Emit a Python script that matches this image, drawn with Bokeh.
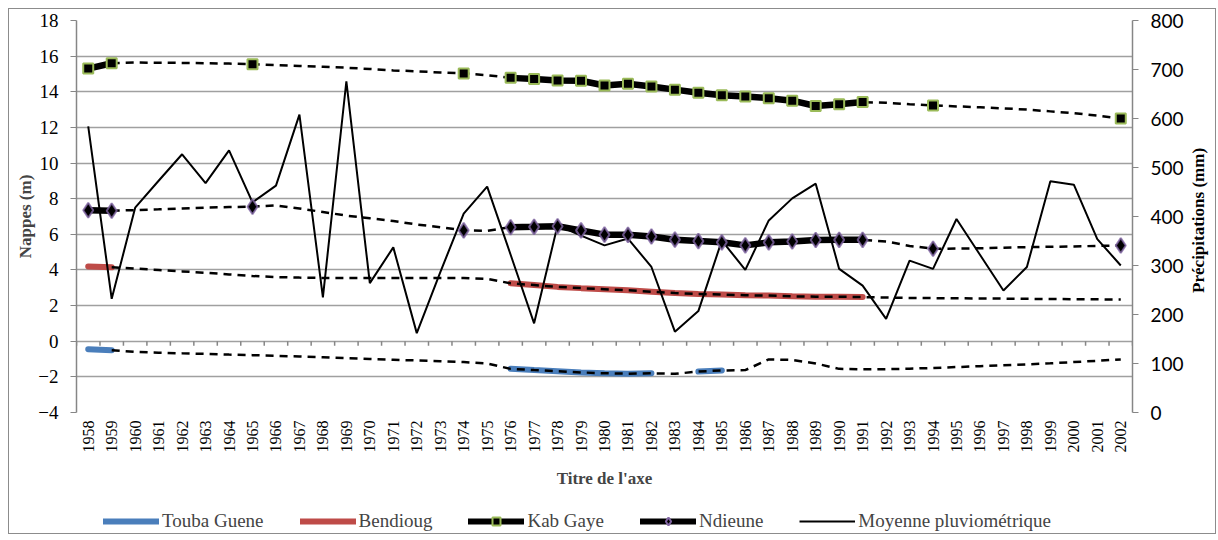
import math
import numpy as np
from bokeh.plotting import figure
from bokeh.layouts import column, row
from bokeh.core.properties import value
from bokeh.models import (FactorRange, Range1d, LinearAxis, Legend, LegendItem,
                          ColumnDataSource, FixedTicker)
from bokeh.transform import dodge
from bokeh.embed import file_html
from bokeh.resources import INLINE

N = np.nan
years = [str(y) for y in range(1958, 2003)]

# Nappes (m) - observed series
touba_guene = [-0.45, -0.5] + [N]*16 + [-1.55, -1.62, -1.68, -1.75, -1.8, -1.82, -1.8, N, -1.7, -1.64] + [N]*17
bendioug = [4.2, 4.15] + [N]*16 + [3.25, 3.15, 3.05, 2.98, 2.92, 2.86, 2.78, 2.7, 2.65, 2.62, 2.58, 2.56, 2.52, 2.5, 2.5, 2.48] + [N]*11
kab_gaye = [15.3, 15.6] + [N]*5 + [15.55] + [N]*8 + [15.03, N] + \
    [14.78, 14.72, 14.63, 14.62, 14.35, 14.45, 14.3, 14.12, 13.95, 13.8, 13.74, 13.64, 13.5, 13.2, 13.3, 13.42] + \
    [N, N, 13.23] + [N]*7 + [12.5]
ndieune = [7.35, 7.32] + [N]*5 + [7.55] + [N]*8 + [6.22, N] + \
    [6.4, 6.42, 6.45, 6.22, 5.98, 5.97, 5.88, 5.7, 5.62, 5.55, 5.38, 5.55, 5.6, 5.68, 5.69, 5.69] + \
    [N, N, 5.19] + [N]*7 + [5.37]

# Dashed trend curves (m)
touba_trend = [N, -0.5, -0.6, -0.64, -0.68, -0.71, -0.75, -0.78, -0.82, -0.86, -0.9, -0.95, -1.0, -1.04, -1.08, -1.12, -1.17, -1.25,
               -1.55, -1.62, -1.68, -1.75, -1.8, -1.82, -1.8, -1.83, -1.7, -1.64,
               -1.62, -1.02, -1.05, -1.25, -1.55, -1.58, -1.57, -1.54, -1.5, -1.45, -1.4, -1.35, -1.3, -1.24, -1.17, -1.1, -1.02]
bendioug_trend = [N, 4.15, 4.08, 4.0, 3.92, 3.84, 3.75, 3.66, 3.6, 3.57, 3.55, 3.55, 3.55, 3.55, 3.55, 3.55, 3.55, 3.5,
                  3.25, 3.15, 3.05, 2.98, 2.92, 2.86, 2.78, 2.7, 2.65, 2.62, 2.58, 2.56, 2.52, 2.5, 2.5, 2.48,
                  2.45, 2.43, 2.42, 2.41, 2.4, 2.39, 2.38, 2.37, 2.36, 2.35, 2.34]
kab_trend = [N, 15.6, 15.64, 15.63, 15.62, 15.6, 15.58, 15.55, 15.5, 15.45, 15.4, 15.35, 15.28, 15.2, 15.15, 15.08, 15.03, 14.93,
             14.78, 14.72, 14.63, 14.62, 14.35, 14.45, 14.3, 14.12, 13.95, 13.8, 13.74, 13.64, 13.5, 13.2, 13.3, 13.42,
             13.38, 13.3, 13.23, 13.18, 13.13, 13.07, 13.0, 12.9, 12.8, 12.66, 12.5]
ndieune_trend = [N, 7.32, 7.36, 7.4, 7.45, 7.5, 7.53, 7.55, 7.62, 7.45, 7.25, 7.05, 6.9, 6.75, 6.55, 6.4, 6.22, 6.2,
                 6.4, 6.42, 6.45, 6.22, 5.98, 5.97, 5.88, 5.7, 5.62, 5.55, 5.38, 5.55, 5.6, 5.68, 5.69, 5.69,
                 5.6, 5.35, 5.19, 5.2, 5.22, 5.25, 5.28, 5.3, 5.32, 5.35, 5.37]

# Précipitations (mm)
pluie = [584, 232, 418, 473, 527, 468, 535, 429, 463, 608, 235, 676, 264, 337, 162, 286, 406, 461,
         322, 182, 382, 361, 341, 355, 297, 165, 207, 351, 291, 392, 437, 467, 293, 259,
         191, 310, 293, 395, 322, 249, 297, 472, 465, 354, 300]

series_names = ["Touba Guene", "Bendioug", "Kab Gaye", "Ndieune", "Moyenne pluviométrique"]
left_title = "Nappes (m)"
right_title = "Précipitations (mm)"
x_title = "Titre de l'axe"
left_ticks = list(range(-4, 19, 2))
right_ticks = list(range(0, 801, 100))

src = ColumnDataSource(dict(
    year=years,
    touba=np.array(touba_guene, dtype=float), bend=np.array(bendioug, dtype=float),
    kab=np.array(kab_gaye, dtype=float), ndi=np.array(ndieune, dtype=float),
    touba_t=np.array(touba_trend, dtype=float), bend_t=np.array(bendioug_trend, dtype=float),
    kab_t=np.array(kab_trend, dtype=float), ndi_t=np.array(ndieune_trend, dtype=float),
    pluie=np.array(pluie, dtype=float),
))

SERIF = "Liberation Serif"
GRID = "#a0a0a0"
AXC = "#868686"
BLUE = "#4a7ebb"
RED = "#be4b48"
GREEN = "#9bbb59"
PURPLE = "#8064a2"

W = 1206
SIDE_W = 28
TOP, BOTTOM = 11, 87

p = figure(width=W - SIDE_W, height=490, x_range=FactorRange(factors=years, range_padding=0),
           y_range=Range1d(-4, 18), output_backend="svg", toolbar_location=None,
           min_border_left=67, min_border_right=55, min_border_top=TOP, min_border_bottom=BOTTOM)
p.outline_line_color = None
p.background_fill_color = "white"
p.border_fill_color = "white"
p.extra_y_ranges = {"rain": Range1d(0, 800)}

p.xgrid.grid_line_color = None
p.ygrid.grid_line_color = GRID
p.ygrid.grid_line_width = 1.5
p.ygrid.ticker = FixedTicker(ticks=left_ticks)

# left axis
ya = p.yaxis[0]
ya.ticker = FixedTicker(ticks=left_ticks)
ya.axis_label = left_title
ya.axis_label_text_font = SERIF
ya.axis_label_text_font_style = "bold"
ya.axis_label_text_font_size = "17px"
ya.axis_label_standoff = 0
ya.major_label_text_font = SERIF
ya.major_label_text_font_size = "19px"
ya.major_label_text_color = "black"
ya.axis_line_color = AXC
ya.axis_line_width = 1.5
ya.major_tick_line_color = AXC
ya.major_tick_in = 0
ya.major_tick_out = 6
ya.major_label_standoff = 12
ya.minor_tick_line_color = None

# right axis (its title is drawn in the narrow strip beside the chart)
ra = LinearAxis(y_range_name="rain", ticker=FixedTicker(ticks=right_ticks))
ra.major_label_text_font = "Lato"
ra.major_label_text_font_size = "19px"
ra.major_label_text_color = "black"
ra.axis_line_color = AXC
ra.axis_line_width = 1.5
ra.major_tick_line_color = AXC
ra.major_tick_in = 0
ra.major_tick_out = 6
ra.major_label_standoff = 12
ra.minor_tick_line_color = None
p.add_layout(ra, "right")

# bottom axis
xa = p.xaxis[0]
xa.axis_label = x_title
xa.axis_label_text_font = SERIF
xa.axis_label_text_font_style = "bold"
xa.axis_label_text_font_size = "17px"
xa.axis_label_standoff = 13
xa.major_label_text_font = SERIF
xa.major_label_text_font_size = "16px"
xa.major_label_text_color = "black"
xa.major_label_orientation = math.pi / 2
xa.axis_line_color = None
xa.major_tick_line_color = None
xa.major_tick_out = 0
xa.major_label_standoff = 8

# small tick marks on the zero line (category boundaries)
p.segment(x0=dodge("year", -0.5, range=p.x_range), x1=dodge("year", -0.5, range=p.x_range), y0="y0", y1="y1",
          source=ColumnDataSource(dict(year=years, y0=[0]*len(years), y1=[-0.25]*len(years))),
          line_color=AXC, line_width=1.5)
p.segment(x0=dodge("year", 0.5, range=p.x_range), x1=dodge("year", 0.5, range=p.x_range), y0="y0", y1="y1",
          source=ColumnDataSource(dict(year=years[-1:], y0=[0], y1=[-0.25])),
          line_color=AXC, line_width=1.5)

p.line("year", "touba", source=src, line_color=BLUE, line_width=6, line_cap="round")
p.line("year", "bend", source=src, line_color=RED, line_width=6, line_cap="round")
p.line("year", "kab", source=src, line_color="black", line_width=6.5, line_cap="round")
p.line("year", "ndi", source=src, line_color="black", line_width=6.5, line_cap="round")

for col in ["touba_t", "bend_t", "kab_t", "ndi_t"]:
    p.line("year", col, source=src, line_color="black", line_width=2.5, line_dash="8 6")

p.line("year", "pluie", source=src, y_range_name="rain", line_color="black", line_width=2)

p.scatter("year", "kab", source=src, marker="square", size=10, fill_color="black",
          line_color=GREEN, line_width=2)
p.scatter("year", "ndi", source=src, marker="diamond", size=15, fill_color="black",
          line_color=PURPLE, line_width=2, line_alpha=0.8)

# narrow strip holding the right-hand axis title (reads bottom to top)
side = figure(width=SIDE_W, height=490, x_range=Range1d(0, 1), y_range=Range1d(0, 1),
              output_backend="svg", toolbar_location=None, x_axis_location=None, y_axis_location=None,
              min_border_left=0, min_border_right=0, min_border_top=TOP, min_border_bottom=BOTTOM)
side.grid.visible = False
side.outline_line_color = None
side.text(x=[0.4], y=[0.49], text=[right_title], angle=math.pi / 2,
          text_align="center", text_baseline="middle", text_font=value(SERIF),
          text_font_style="bold", text_font_size="17px", text_color="black")

# legend strip (same glyph styles as the chart; its sample glyphs sit outside the visible range)
lg = figure(width=W, height=34, x_range=Range1d(0, 1), y_range=Range1d(0, 1),
            output_backend="svg", toolbar_location=None, x_axis_location=None, y_axis_location=None,
            min_border_left=67, min_border_right=83, min_border_top=0, min_border_bottom=0)
lg.grid.visible = False
lg.outline_line_color = None
off = dict(x=[5, 6], y=[5, 5])
g_touba = lg.line(x=off["x"], y=off["y"], line_color=BLUE, line_width=6, line_cap="round")
g_bend = lg.line(x=off["x"], y=off["y"], line_color=RED, line_width=6, line_cap="round")
g_kab = lg.line(x=off["x"], y=off["y"], line_color="black", line_width=6, line_cap="round")
g_kab_m = lg.scatter(x=off["x"], y=off["y"], marker="square", size=9, fill_color="black", line_color=GREEN, line_width=2)
g_ndi = lg.line(x=off["x"], y=off["y"], line_color="black", line_width=6, line_cap="round")
g_ndi_m = lg.scatter(x=off["x"], y=off["y"], marker="diamond", size=14, fill_color="black", line_color=PURPLE, line_width=2)
g_rain = lg.line(x=off["x"], y=off["y"], line_color="black", line_width=2)

legend = Legend(items=[
    LegendItem(label=series_names[0], renderers=[g_touba]),
    LegendItem(label=series_names[1], renderers=[g_bend]),
    LegendItem(label=series_names[2], renderers=[g_kab, g_kab_m]),
    LegendItem(label=series_names[3], renderers=[g_ndi, g_ndi_m]),
    LegendItem(label=series_names[4], renderers=[g_rain]),
], orientation="horizontal", location=(27, 1))
legend.label_text_font = SERIF
legend.label_text_font_size = "19px"
legend.glyph_width = 56
legend.glyph_height = 20
legend.label_standoff = 3
legend.spacing = 36
legend.padding = 0
legend.margin = 0
legend.border_line_color = None
legend.background_fill_alpha = 0
lg.add_layout(legend)

layout = column(row(p, side, spacing=0), lg, spacing=0,
                styles={"border": "1px solid #8c8c8c", "background": "white", "margin": "8px 0 0 8px"})

open("out.html", "w").write(file_html(layout, INLINE))
